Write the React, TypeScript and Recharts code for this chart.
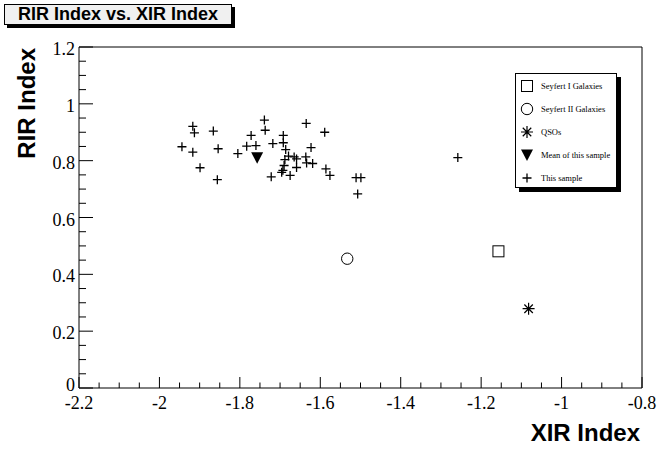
import React from "react";
import {
  ScatterChart,
  Scatter,
  XAxis,
  YAxis,
  ReferenceLine,
  Legend,
} from "recharts";

if (typeof document !== "undefined") document.body.style.margin = "0";

// X-ray / radio-infrared spectral indices of the sample
const sampleXir = [
  -1.917, -1.913, -1.866, -1.944, -1.917, -1.854, -1.899, -1.856, -1.739, -1.737,
  -1.772, -1.783, -1.76, -1.805, -1.718, -1.692, -1.692, -1.686, -1.635, -1.589,
  -1.623, -1.679, -1.665, -1.659, -1.636, -1.634, -1.619, -1.688, -1.69, -1.659,
  -1.693, -1.696, -1.722, -1.675, -1.586, -1.576, -1.511, -1.499, -1.507, -1.258,
];
const sampleRir = [
  0.921, 0.898, 0.904, 0.849, 0.83, 0.842, 0.775, 0.733, 0.943, 0.907,
  0.889, 0.851, 0.853, 0.825, 0.86, 0.889, 0.863, 0.839, 0.931, 0.9,
  0.846, 0.816, 0.813, 0.806, 0.813, 0.792, 0.79, 0.804, 0.783, 0.776,
  0.766, 0.759, 0.743, 0.748, 0.771, 0.748, 0.74, 0.74, 0.683, 0.811,
];
const meanPoint = [{ xir: -1.757, rir: 0.81 }];
const seyfert1 = [{ xir: -1.157, rir: 0.481 }];
const seyfert2 = [{ xir: -1.533, rir: 0.455 }];
const qsos = [{ xir: -1.082, rir: 0.279 }];

const xTicks = [-2.2, -2, -1.8, -1.6, -1.4, -1.2, -1, -0.8];
const yTicks = [0, 0.2, 0.4, 0.6, 0.8, 1, 1.2];
const legendOrder = [
  "Seyfert I Galaxies",
  "Seyfert II Galaxies",
  "QSOs",
  "Mean of this sample",
  "This sample",
];

const sample = sampleXir.map((x, i) => ({ xir: x, rir: sampleRir[i] }));

// four minor divisions between labelled ticks
const withMinor = (major: number[]) => {
  const out: number[] = [];
  major.forEach((v, i) => {
    out.push(v);
    if (i < major.length - 1) {
      const step = (major[i + 1] - v) / 4;
      for (let k = 1; k < 4; k++) out.push(+(v + k * step).toFixed(3));
    }
  });
  return out;
};
const xAll = withMinor(xTicks);
const yAll = withMinor(yTicks);
const isMajor = (list: number[], v: number) => list.some((m) => Math.abs(m - v) < 1e-6);
const fmt = (v: number) => String(+v.toFixed(2));

const serif = "'Liberation Serif', 'DejaVu Serif', serif";
const sans = "'Liberation Sans', Arial, sans-serif";

const Plus = ({ cx, cy }: any) => (
  <path d={`M${cx - 4.5},${cy}H${cx + 4.5}M${cx},${cy - 4.5}V${cy + 4.5}`} stroke="#000" strokeWidth={1.3} />
);
const Triangle = ({ cx, cy }: any) => (
  <path d={`M${cx - 6},${cy - 5.5}L${cx + 6},${cy - 5.5}L${cx},${cy + 6}Z`} fill="#000" />
);
const Ring = ({ cx, cy }: any) => <circle cx={cx} cy={cy} r={5.7} fill="none" stroke="#000" strokeWidth={1} />;
const Square = ({ cx, cy }: any) => (
  <rect x={cx - 5.5} y={cy - 5.5} width={11} height={11} fill="none" stroke="#000" strokeWidth={1} />
);
const Star = ({ cx, cy }: any) => {
  const r = 6;
  const d = r * 0.7071;
  return (
    <path
      d={`M${cx - r},${cy}H${cx + r}M${cx},${cy - r}V${cy + r}M${cx - d},${cy - d}L${cx + d},${cy + d}M${cx - d},${cy + d}L${cx + d},${cy - d}`}
      stroke="#000"
      strokeWidth={1.2}
    />
  );
};

const markerFor: Record<string, any> = {
  "Seyfert I Galaxies": Square,
  "Seyfert II Galaxies": Ring,
  QSOs: Star,
  "Mean of this sample": Triangle,
  "This sample": Plus,
};

const XTick = ({ x, y, payload }: any) => {
  const major = isMajor(xTicks, payload.value);
  return (
    <g>
      <line x1={x} x2={x} y1={y} y2={y - (major ? 11 : 5.5)} stroke="#000" />
      {major && (
        <text x={x} y={y + 21} textAnchor="middle" fontFamily={serif} fontSize={18} fill="#000">
          {fmt(payload.value)}
        </text>
      )}
    </g>
  );
};

const YTick = ({ x, y, payload }: any) => {
  const major = isMajor(yTicks, payload.value);
  // the zero label sits a little higher so it clears the -2.2 below it
  const dy = payload.value === 0 ? 3 : 8;
  return (
    <g>
      <line x1={x} x2={x + (major ? 14 : 7)} y1={y} y2={y} stroke="#000" />
      {major && (
        <text x={x - 4} y={y + dy} textAnchor="end" fontFamily={serif} fontSize={18} fill="#000">
          {fmt(payload.value)}
        </text>
      )}
    </g>
  );
};

const LegendBox = () => (
  <div
    style={{
      width: 102,
      height: 115,
      background: "#fff",
      border: "1px solid #000",
      boxShadow: "4px 4px 0 #000",
      boxSizing: "border-box",
    }}
  >
    {legendOrder.map((name) => {
      const M = markerFor[name];
      return (
        <div key={name} style={{ display: "flex", alignItems: "center", height: 23 }}>
          <svg width={25} height={16} style={{ flex: "none" }}>
            <M cx={11} cy={8} />
          </svg>
          <span style={{ fontFamily: serif, fontSize: 8.5, color: "#000", whiteSpace: "nowrap" }}>{name}</span>
        </div>
      );
    })}
  </div>
);

export default function App() {
  return (
    <div style={{ position: "relative", width: 662, height: 449, background: "#fff" }}>
      <div
        style={{
          position: "absolute",
          left: 4,
          top: 4,
          width: 228,
          height: 21,
          boxSizing: "border-box",
          background: "#f0f0f0",
          border: "1px solid #000",
          boxShadow: "3px 3px 0 #000",
          fontFamily: sans,
          fontWeight: "bold",
          fontSize: 18,
          lineHeight: "19px",
          textAlign: "center",
          color: "#000",
          zIndex: 2,
        }}
      >
        RIR Index vs. XIR Index
      </div>
      <ScatterChart width={662} height={449} margin={{ top: 47, right: 20, bottom: 60, left: 78 }}>
        <XAxis
          type="number"
          dataKey="xir"
          domain={[-2.2, -0.8]}
          ticks={xAll}
          interval={0}
          height={1}
          tickSize={0}
          tickMargin={0}
          tickLine={false}
          tick={<XTick />}
          axisLine={{ stroke: "#000" }}
          allowDataOverflow
          label={{
            content: () => (
              <text x={640} y={441} textAnchor="end" fontFamily={sans} fontWeight="bold" fontSize={24} fill="#000">
                XIR Index
              </text>
            ),
          }}
        />
        <YAxis
          type="number"
          dataKey="rir"
          domain={[0, 1.2]}
          ticks={yAll}
          interval={0}
          width={1}
          tickSize={0}
          tickMargin={0}
          tickLine={false}
          tick={<YTick />}
          axisLine={{ stroke: "#000" }}
          allowDataOverflow
          label={{
            content: () => (
              <text
                x={35}
                y={48}
                transform="rotate(-90 35 48)"
                textAnchor="end"
                fontFamily={sans}
                fontWeight="bold"
                fontSize={24}
                fill="#000"
              >
                RIR Index
              </text>
            ),
          }}
        />
        <ReferenceLine y={1.2} stroke="#000" />
        <ReferenceLine x={-0.8} stroke="#000" />
        <Legend
          layout="vertical"
          align="center"
          verticalAlign="middle"
          content={<LegendBox />}
          wrapperStyle={{ position: "absolute", left: 515, top: 73, width: 106 }}
        />
        <Scatter name="Seyfert I Galaxies" data={seyfert1} shape={Square} isAnimationActive={false} />
        <Scatter name="Seyfert II Galaxies" data={seyfert2} shape={Ring} isAnimationActive={false} />
        <Scatter name="QSOs" data={qsos} shape={Star} isAnimationActive={false} />
        <Scatter name="Mean of this sample" data={meanPoint} shape={Triangle} isAnimationActive={false} />
        <Scatter name="This sample" data={sample} shape={Plus} isAnimationActive={false} />
      </ScatterChart>
    </div>
  );
}
